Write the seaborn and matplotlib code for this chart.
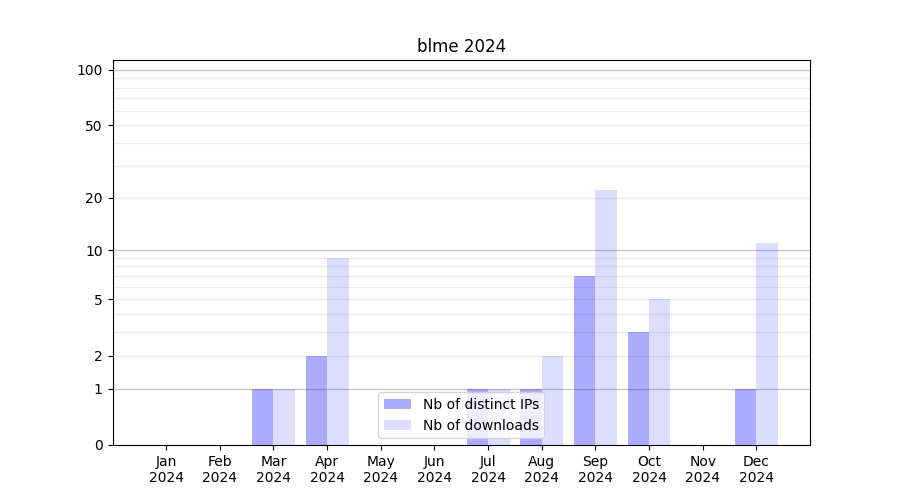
import numpy as np
import pandas as pd
import matplotlib
matplotlib.use("Agg")
import matplotlib.pyplot as plt
import seaborn as sns
from matplotlib.patches import Patch

months = ["Jan", "Feb", "Mar", "Apr", "May", "Jun", "Jul", "Aug", "Sep", "Oct", "Nov", "Dec"]
year = "2024"
distinct_ips = [0, 0, 1, 2, 0, 0, 1, 1, 7, 3, 0, 1]
downloads = [0, 0, 1, 9, 0, 0, 1, 2, 22, 5, 0, 11]
series_names = ["Nb of distinct IPs", "Nb of downloads"]
ytick_values = [0, 1, 2, 5, 10, 20, 50, 100]

labels = [f"{m}\n{year}" for m in months]
df = pd.DataFrame({
    "month": labels * 2,
    "value": distinct_ips + downloads,
    "series": [series_names[0]] * 12 + [series_names[1]] * 12,
})

fig, ax = plt.subplots(figsize=(9, 5), dpi=100)

ax.set_yscale("function", functions=(lambda x: np.log10(1 + np.clip(x, 0, None)),
                                     lambda y: 10 ** y - 1))

sns.barplot(data=df, x="month", y="value", hue="series", order=labels,
            hue_order=series_names, palette=["blue", "blue"], saturation=1,
            ax=ax, legend=False, width=0.8)

alphas = [0.33, 0.135]
for i, cont in enumerate(ax.containers):
    for p in cont:
        p.set_alpha(alphas[i])
        p.set_edgecolor("none")
        p.set_zorder(2)

# grid lines
major = [1, 10, 100]
minor = [2, 3, 4, 5, 6, 7, 8, 9, 20, 30, 40, 50, 60, 70, 80, 90]
for v in minor:
    ax.axhline(v, color="#ebebeb", lw=0.9, zorder=1)
for v in major:
    ax.axhline(v, color="#c8c8c8", lw=1.0, zorder=1)

ax.set_ylim(0, 113)
ax.set_xlim(-1, 12)
ax.set_yticks(ytick_values)
ax.set_yticklabels([str(v) for v in ytick_values])
ax.minorticks_off()
ax.set_xlabel("")
ax.set_ylabel("")
ax.set_title("blme 2024")

handles = [Patch(facecolor="blue", alpha=alphas[0], edgecolor="none"),
           Patch(facecolor="blue", alpha=alphas[1], edgecolor="none")]
ax.legend(handles, series_names, loc="lower center")

fig.savefig("out.png", dpi=100)
